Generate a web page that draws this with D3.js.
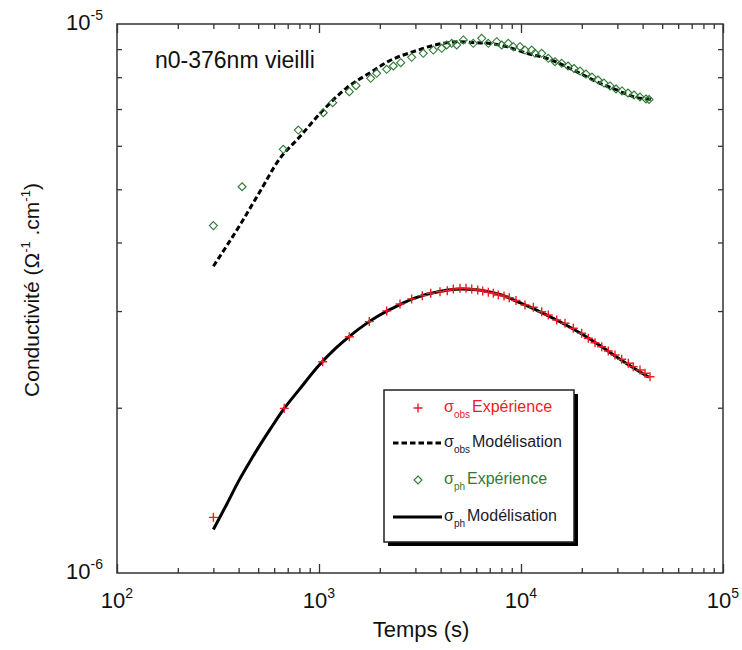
<!DOCTYPE html>
<html>
<head>
<meta charset="utf-8">
<script src="https://cdn.jsdelivr.net/npm/d3@7"></script>
<style>
  body { margin: 0; background: #fff; }
  svg { display: block; font-family: "Liberation Sans", Arial, sans-serif; }
</style>
</head>
<body>
<svg id="chart" width="742" height="650"></svg>
<script>
// ---- DATA ----
// red "+" : sigma_obs Expérience (lower curve)
const obsExpTime = [300, 673, 1043, 1413, 1774, 2163, 2518, 2876, 3246, 3573, 3972, 4316, 4623, 4989, 5343, 5702, 6104, 6463, 6890, 7294, 7722, 8240, 8752, 9445, 10466, 11507, 12664, 13652, 15023, 16513, 18150, 19970, 21540, 23250, 25090, 27050, 29200, 31510, 33980, 35970, 38820, 41110, 43520];
const obsExpValue = [1.263, 1.995, 2.426, 2.694, 2.87, 3.002, 3.09, 3.156, 3.20, 3.232, 3.254, 3.268, 3.291, 3.301, 3.301, 3.291, 3.277, 3.263, 3.245, 3.232, 3.209, 3.196, 3.173, 3.135, 3.077, 3.048, 2.992, 2.951, 2.889, 2.85, 2.791, 2.733, 2.676, 2.627, 2.583, 2.537, 2.495, 2.451, 2.41, 2.376, 2.343, 2.311, 2.278]; // ×1e-6

// dashed : sigma_obs Modélisation (upper curve)
const obsModTime = [300, 411, 500, 641, 790, 1050, 1371, 1789, 2246, 2930, 3753, 4989, 5920, 6890, 8495, 10670, 13410, 18150, 24610, 29770, 35970, 43970];
const obsModValue = [3.62, 4.335, 4.89, 5.693, 6.19, 6.971, 7.65, 8.15, 8.58, 8.904, 9.157, 9.285, 9.246, 9.222, 9.093, 8.843, 8.66, 8.245, 7.798, 7.583, 7.372, 7.29];

// green diamonds : sigma_ph Expérience (upper curve)
const phExpTime = [300, 416, 666, 790, 1050, 1169, 1413, 1525, 1803, 1930, 2163, 2333, 2538, 2876, 3283, 3680, 4051, 4288, 4540, 4805, 5181, 5806, 6389, 6890, 7581, 8025, 8651, 9160, 9886, 10470, 11300, 11730, 12660, 13650, 14730, 15900, 17090, 18300, 19600, 20980, 22470, 24060, 25760, 27590, 29540, 31620, 33860, 36260, 38820, 41570, 43030];
const phExpValue = [4.293, 5.053, 5.912, 6.41, 6.892, 7.19, 7.53, 7.72, 7.963, 8.132, 8.27, 8.385, 8.502, 8.696, 8.843, 8.966, 9.03, 9.157, 9.222, 9.157, 9.352, 9.222, 9.418, 9.222, 9.285, 9.157, 9.222, 9.093, 9.093, 8.966, 8.966, 8.843, 8.843, 8.66, 8.538, 8.481, 8.385, 8.297, 8.21, 8.107, 8.006, 7.907, 7.807, 7.711, 7.614, 7.551, 7.487, 7.425, 7.362, 7.301, 7.286];

// solid : sigma_ph Modélisation (lower curve)
const phModTime = [300, 350, 400, 450, 500, 580, 670, 800, 1000, 1200, 1400, 1700, 2000, 2500, 3000, 4000, 5000, 6000, 7000, 8000, 10000, 12000, 15000, 20000, 25000, 30000, 35000, 43000];
const phModValue = [1.20, 1.336, 1.47, 1.585, 1.69, 1.84, 1.99, 2.16, 2.39, 2.56, 2.69, 2.84, 2.95, 3.08, 3.17, 3.26, 3.29, 3.28, 3.25, 3.21, 3.10, 3.01, 2.89, 2.725, 2.585, 2.47, 2.38, 2.272];

const xMajorTicks = [1e2, 1e3, 1e4, 1e5];
const xTickExponents = ["2", "3", "4", "5"];
const yMajorTicks = [1e-6, 1e-5];
const yTickExponents = ["-6", "-5"];
const minorMultipliers = [2, 3, 4, 5, 6, 7, 8, 9];

const annotation = "n0-376nm vieilli";
const xTitle = "Temps (s)";

// ---- CHART ----
const svg = d3.select("#chart");
const L = 117, R = 723, T = 24, B = 573;
const x = d3.scaleLog().domain([1e2, 1e5]).range([L, R]);
const y = d3.scaleLog().domain([1e-6, 1e-5]).range([B, T]);
const axisColor = "#333";

const xMinor = [];
[1e2, 1e3, 1e4].forEach(d => minorMultipliers.forEach(m => xMinor.push(d * m)));
const yMinor = minorMultipliers.map(m => m * 1e-6);

function styleAxis(g) {
  g.select(".domain").remove();
  g.selectAll(".tick line").attr("stroke", axisColor).attr("stroke-width", 1.3);
  g.selectAll(".tick text").remove();
}
const majLen = 9, minLen = 5;
svg.append("g").attr("transform", `translate(0,${B})`)
  .call(d3.axisBottom(x).tickValues(xMinor).tickSize(-minLen).tickFormat(() => "")).call(styleAxis);
svg.append("g").attr("transform", `translate(0,${B})`)
  .call(d3.axisBottom(x).tickValues(xMajorTicks).tickSize(-majLen).tickFormat(() => "")).call(styleAxis);
svg.append("g").attr("transform", `translate(0,${T})`)
  .call(d3.axisTop(x).tickValues(xMinor).tickSize(-minLen).tickFormat(() => "")).call(styleAxis);
svg.append("g").attr("transform", `translate(0,${T})`)
  .call(d3.axisTop(x).tickValues(xMajorTicks).tickSize(-majLen).tickFormat(() => "")).call(styleAxis);
svg.append("g").attr("transform", `translate(${L},0)`)
  .call(d3.axisLeft(y).tickValues(yMinor).tickSize(-minLen).tickFormat(() => "")).call(styleAxis);
svg.append("g").attr("transform", `translate(${R},0)`)
  .call(d3.axisRight(y).tickValues(yMinor).tickSize(-minLen).tickFormat(() => "")).call(styleAxis);

svg.append("rect").attr("x", L).attr("y", T).attr("width", R - L).attr("height", B - T)
  .attr("fill", "none").attr("stroke", axisColor).attr("stroke-width", 1.5);

// tick labels
const labFs = 22, supFs = 14;
xMajorTicks.forEach((v, i) => {
  const t = svg.append("text").attr("x", x(v)).attr("y", 608).attr("text-anchor", "middle")
    .attr("font-size", labFs).attr("fill", "#111");
  t.append("tspan").text("10");
  t.append("tspan").attr("font-size", supFs).attr("dy", -10).text(xTickExponents[i]);
});
yMajorTicks.forEach((v, i) => {
  const t = svg.append("text").attr("x", 103).attr("y", y(v) + 6).attr("text-anchor", "end")
    .attr("font-size", labFs).attr("fill", "#111");
  t.append("tspan").text("10");
  t.append("tspan").attr("font-size", supFs).attr("dy", -10).text(yTickExponents[i]);
});

// axis titles
svg.append("text").attr("x", 421).attr("y", 637).attr("text-anchor", "middle")
  .attr("font-size", 22).attr("fill", "#111").text(xTitle);
const yt = svg.append("text").attr("transform", "translate(39,290) rotate(-90)")
  .attr("text-anchor", "middle").attr("font-size", 21).attr("fill", "#111");
yt.append("tspan").text("Conductivité (Ω");
yt.append("tspan").attr("font-size", 13).attr("dy", -9).text("-1");
yt.append("tspan").attr("dy", 9).text(" .cm");
yt.append("tspan").attr("font-size", 13).attr("dy", -9).text("-1");
yt.append("tspan").attr("dy", 9).text(")");

// annotation
svg.append("text").attr("x", 155).attr("y", 68).attr("font-size", 23).attr("fill", "#111").text(annotation);

// lines
const line = d3.line().x(d => x(d[0])).y(d => y(d[1] * 1e-6)).curve(d3.curveMonotoneX);
const zip = (a, b) => a.map((t, i) => [t, b[i]]);

svg.append("path").datum(zip(obsModTime, obsModValue)).attr("d", line)
  .attr("fill", "none").attr("stroke", "#000").attr("stroke-width", 3).attr("stroke-dasharray", "5.5,3");
svg.append("path").datum(zip(phModTime, phModValue)).attr("d", line)
  .attr("fill", "none").attr("stroke", "#000").attr("stroke-width", 3);

const green = "#2f7a35", red = "#ee1c24";
const diamond = (cx, cy, s) => `M${cx},${cy - s}L${cx + s},${cy}L${cx},${cy + s}L${cx - s},${cy}Z`;
const plus = (cx, cy, s) => `M${cx - s},${cy}H${cx + s}M${cx},${cy - s}V${cy + s}`;

svg.append("g").selectAll("path").data(zip(phExpTime, phExpValue)).join("path")
  .attr("d", d => diamond(x(d[0]), y(d[1] * 1e-6), 4))
  .attr("fill", "none").attr("stroke", green).attr("stroke-width", 1.1);
svg.append("g").selectAll("path").data(zip(obsExpTime, obsExpValue)).join("path")
  .attr("d", d => plus(x(d[0]), y(d[1] * 1e-6), 4.5))
  .attr("fill", "none").attr("stroke", red).attr("stroke-width", 1.4);

// legend
const lg = svg.append("g");
lg.append("rect").attr("x", 388).attr("y", 394).attr("width", 190).attr("height", 152).attr("fill", "#000");
lg.append("rect").attr("x", 384).attr("y", 390).attr("width", 190).attr("height", 152)
  .attr("fill", "#fff").attr("stroke", "#222").attr("stroke-width", 1.5);
const rows = [
  { y: 408, sub: "obs", label: "Expérience", color: red, kind: "plus" },
  { y: 443, sub: "obs", label: "Modélisation", color: "#1a1a2e", kind: "dash" },
  { y: 480, sub: "ph", label: "Expérience", color: green, kind: "diamond" },
  { y: 517, sub: "ph", label: "Modélisation", color: "#1a1a2e", kind: "solid" }
];
rows.forEach(r => {
  if (r.kind === "plus") lg.append("path").attr("d", plus(418, r.y, 4.5)).attr("stroke", red).attr("stroke-width", 1.4).attr("fill", "none");
  if (r.kind === "diamond") lg.append("path").attr("d", diamond(418, r.y, 4)).attr("stroke", green).attr("stroke-width", 1.1).attr("fill", "none");
  if (r.kind === "dash") lg.append("line").attr("x1", 393).attr("x2", 442).attr("y1", r.y).attr("y2", r.y)
    .attr("stroke", "#000").attr("stroke-width", 3).attr("stroke-dasharray", "5.5,3");
  if (r.kind === "solid") lg.append("line").attr("x1", 393).attr("x2", 442).attr("y1", r.y).attr("y2", r.y)
    .attr("stroke", "#000").attr("stroke-width", 3);
  const t = lg.append("text").attr("x", 444).attr("y", r.y + 4).attr("font-size", 16).attr("fill", r.color);
  t.append("tspan").text("σ");
  t.append("tspan").attr("font-size", 10).attr("dy", 6).text(r.sub);
  t.append("tspan").attr("dy", -6).attr("dx", 2).text(r.label);
});
</script>
</body>
</html>
